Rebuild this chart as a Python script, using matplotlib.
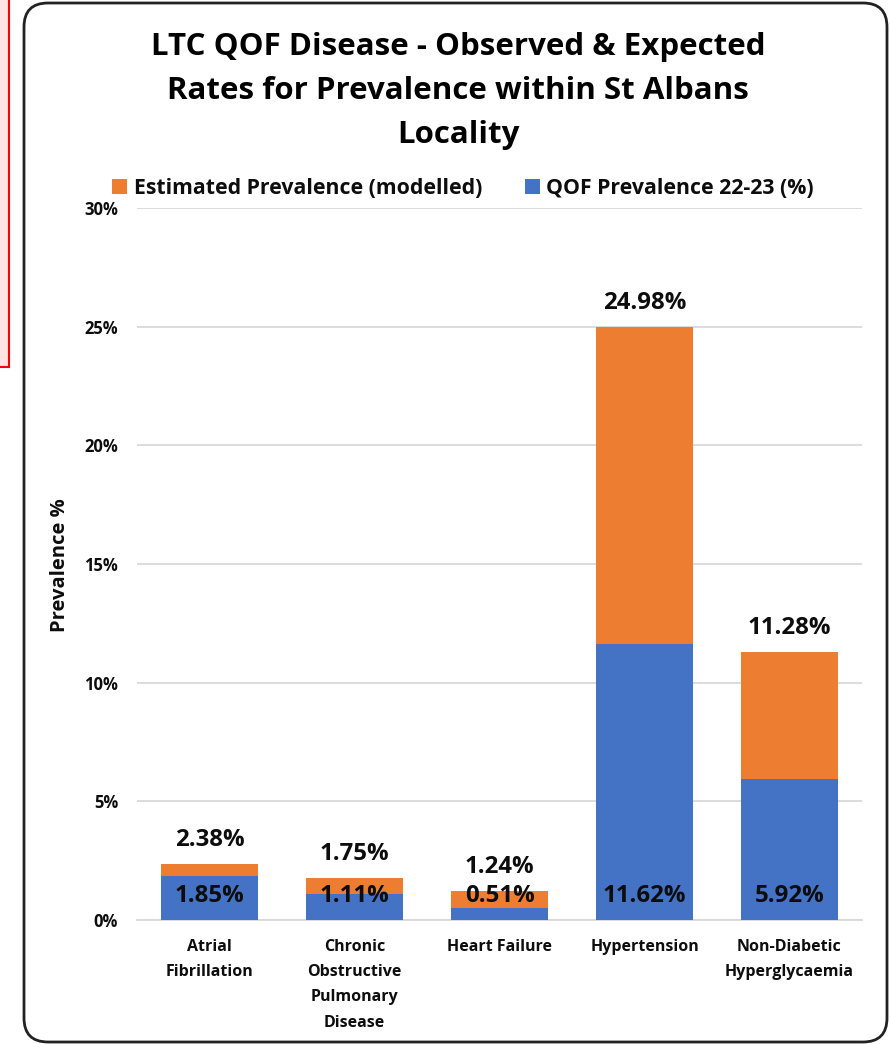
import matplotlib
matplotlib.use("Agg")
import matplotlib.pyplot as plt
from matplotlib.patches import FancyBboxPatch, Rectangle, Patch
from matplotlib.transforms import IdentityTransform
from matplotlib.ticker import MultipleLocator, FuncFormatter

plt.rcParams['font.family'] = ['Open Sans', 'DejaVu Sans']

categories = ["Atrial\nFibrillation", "Chronic\nObstructive\nPulmonary\nDisease",
              "Heart Failure", "Hypertension", "Non-Diabetic\nHyperglycaemia"]
qof_prev = [1.85, 1.11, 0.51, 11.62, 5.92]
est_prev = [2.38, 1.75, 1.24, 24.98, 11.28]
series_names = ["Estimated Prevalence (modelled)", "QOF Prevalence 22-23 (%)"]
title = "LTC QOF Disease - Observed & Expected\nRates for Prevalence within St Albans\nLocality"

ORANGE = "#ED7D31"
BLUE = "#4472C4"
TXT = "#0d0d0d"
W, H = 890, 1044
fig = plt.figure(figsize=(W / 100, H / 100), dpi=100)

# red side panel (partially visible)
fig.patches.append(Rectangle((-20, H - 367), 29, 380, transform=IdentityTransform(),
                             facecolor="#FFE3E3", edgecolor="#FF0000", linewidth=1.5,
                             zorder=-2))
# rounded chart border
fig.patches.append(FancyBboxPatch((24, H - 1042), 863, 1039,
                                  boxstyle="round,pad=0,rounding_size=24",
                                  transform=IdentityTransform(),
                                  facecolor="white", edgecolor="#222222", linewidth=2,
                                  zorder=-1))

ax = fig.add_axes([137 / W, 124 / H, 725 / W, 712 / H])
ax.set_facecolor("none")
x = list(range(len(categories)))
ax.bar(x, est_prev, width=0.67, color=ORANGE, zorder=2)
ax.bar(x, qof_prev, width=0.67, color=BLUE, zorder=3)

for xi, v in zip(x, est_prev):
    ax.annotate(f"{v:.2f}%", (xi, v), xytext=(0, 24), textcoords="offset pixels",
                ha="center", va="center", fontsize=17.3, fontweight="bold", color=TXT)
for xi, v in zip(x, qof_prev):
    ax.annotate(f"{v:.2f}%", (xi, 0), xytext=(0, 24), textcoords="offset pixels",
                ha="center", va="center", fontsize=17.3, fontweight="bold", color=TXT,
                zorder=5)

ax.set_xlim(-0.5, len(categories) - 0.5)
ax.set_ylim(0, 30)
ax.yaxis.set_major_locator(MultipleLocator(5))
ax.yaxis.set_major_formatter(FuncFormatter(lambda v, p: f"{v:.0f}%"))
ax.grid(axis="y", color="#D9D9D9", linewidth=1.3, zorder=0)
ax.set_axisbelow(True)
for s in ["top", "right", "left"]:
    ax.spines[s].set_visible(False)
ax.spines["bottom"].set_color("#D9D9D9")
ax.spines["bottom"].set_linewidth(1.3)
ax.tick_params(axis="both", length=0, labelcolor=TXT)
ax.tick_params(axis="y", pad=13.5, labelsize=12)
ax.tick_params(axis="x", pad=13.5, labelsize=11.5)
ax.set_xticks(x)
ax.set_xticklabels(categories, fontweight="bold", linespacing=1.78)
for lab in ax.get_yticklabels():
    lab.set_fontweight("bold")

fig.text(60 / W, 1 - 565 / H, "Prevalence %", rotation=90, ha="center", va="center",
         fontsize=14.5, fontweight="bold", color=TXT)

fig.text(458 / W, 1 - 91 / H, title, ha="center", va="center", fontsize=22.5,
         fontweight="bold", linespacing=1.62, color="#000000")

handles = [Patch(facecolor=ORANGE), Patch(facecolor=BLUE)]
fig.legend(handles, series_names, loc="center", bbox_to_anchor=(463 / W, 1 - 188 / H),
           ncol=2, frameon=False, handlelength=0.7, handleheight=0.7, handletextpad=0.3,
           columnspacing=2.0, prop={"size": 15.3, "weight": "bold"}, labelcolor=TXT)

fig.savefig("out.png", dpi=100)
